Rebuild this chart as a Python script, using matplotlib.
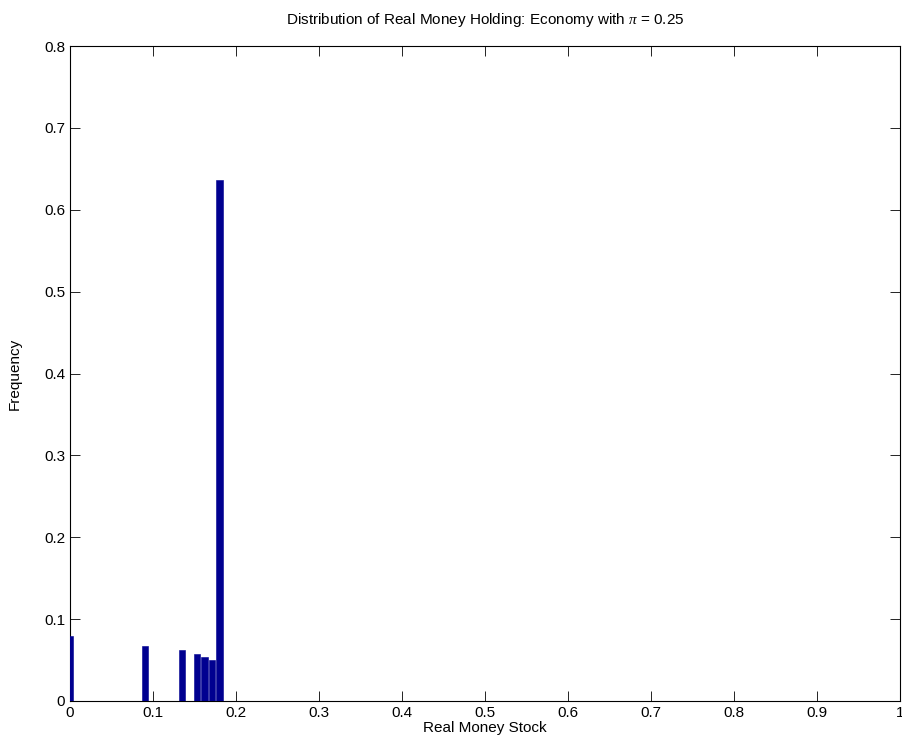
import numpy as np
import matplotlib.pyplot as plt

# histogram of real money holdings (bin centres on a 0.009 grid)
bin_width = 0.009
bin_centers = np.arange(0, 112) * bin_width
nonzero_bins = [0, 10, 15, 17, 18, 19, 20]
nonzero_freq = [0.079, 0.067, 0.062, 0.0577, 0.0537, 0.0504, 0.636]

freq = np.zeros(len(bin_centers))
freq[nonzero_bins] = nonzero_freq

xticks = np.round(np.arange(0, 1.01, 0.1), 1)
yticks = np.round(np.arange(0, 0.81, 0.1), 1)

plt.rcParams['font.family'] = ['Liberation Sans', 'DejaVu Sans']
plt.rcParams['mathtext.fontset'] = 'custom'
plt.rcParams['mathtext.it'] = 'Liberation Serif:italic'

fig = plt.figure(figsize=(9.03, 7.56), dpi=100)
ax = fig.add_axes([70 / 903, 55 / 756, 830 / 903, 655 / 756])

ax.bar(bin_centers, freq, width=bin_width * 0.84, color='#000090',
       edgecolor='#000090', linewidth=0.4, align='center', zorder=3)

ax.set_xlim(0, 1)
ax.set_ylim(0, 0.8)
ax.set_xticks(xticks)
ax.set_xticklabels(['0' if t == 0 else ('1' if t == 1 else f'{t:g}') for t in xticks])
ax.set_yticks(yticks)
ax.set_yticklabels(['0' if t == 0 else f'{t:g}' for t in yticks])
ax.tick_params(direction='in', top=True, right=True, labelsize=11, length=7, width=0.6)
for s in ax.spines.values():
    s.set_linewidth(0.8)

ax.set_title(r'Distribution of Real Money Holding: Economy with $\pi$ = 0.25', fontsize=11, pad=16)
ax.set_xlabel('Real Money Stock', fontsize=11, labelpad=1)
ax.set_ylabel('Frequency', fontsize=11, labelpad=16)

fig.savefig('out.png', dpi=100)
